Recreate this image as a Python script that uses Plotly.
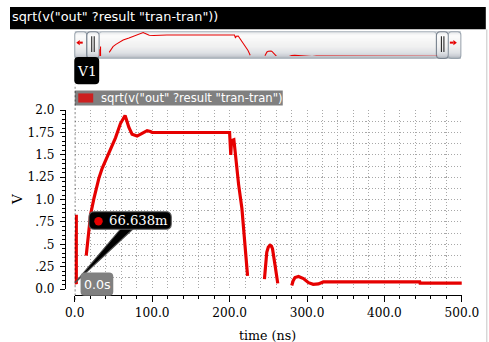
import plotly.graph_objects as go

# The photographed page carries an 8px body margin and is scaled by about 0.948,
# so layout positions are written in reference-picture pixels and mapped here.
K = 0.948
S = 1 / K
OFF = 8
W, H = 498, 343

# ---------------- data ----------------
t_ns = [0, 0, 2, 2, None,
        14.8, 17.4, 20.4, 24.7, 31.2, 35.4, 44, 52.6, 59, 63.4, 65, 66.5, 69.8, 74, 80.5, 87, 93.4, 97.7, 100,
        200, 201.5, 202.5, 205.5, 207, 209.4, 211.6, 215.9, 220, 223.2, None,
        245, 248, 250, 252.3, 254, 255.4, 258.8, 262.2, None,
        280.3, 282, 284.5, 289, 295.4, 301.9, 308, 314.7, 321, 445.6, 446, 500]
v_out = [0.62, 0.0666, 0.07, 0.83, None,
         0.374, 0.56, 0.83, 1.01, 1.24, 1.35, 1.51, 1.69, 1.85, 1.93, 1.94, 1.9, 1.81, 1.73, 1.71, 1.74, 1.77, 1.76, 1.75,
         1.75, 1.5, 1.66, 1.67, 1.55, 1.35, 1.17, 0.90, 0.52, 0.147, None,
         0.11, 0.41, 0.47, 0.49, 0.48, 0.45, 0.26, 0.063, None,
         0.04, 0.09, 0.128, 0.14, 0.117, 0.071, 0.052, 0.057, 0.079, 0.079, 0.065, 0.065]

y_tickvals = [0, 0.25, 0.5, 0.75, 1.0, 1.25, 1.5, 1.75, 2.0]
y_ticktext = ["0.0", ".25", ".5", ".75", "1.0", "1.25", "1.5", "1.75", "2.0"]
x_tickvals = [0, 100, 200, 300, 400, 500]
x_ticktext = ["0.0", "100.0", "200.0", "300.0", "400.0", "500.0"]

marker_t = 0.0
marker_v = 0.066638
marker_label = "66.638m"
marker_time_label = "0.0s"
signal_name = 'sqrt(v("out" ?result "tran-tran"))'
trace_tag = "V1"
x_title = "time (ns)"
y_title = "V"

# ---------------- helpers ----------------
def fx(x):
    return (x * S - OFF) / W

def fy(y):
    return 1 - (y * S - OFF) / H

def L(v):
    return v * S

def rr(x0, y0, x1, y1, rx, ry):
    xa, xb = min(x0, x1), max(x0, x1)
    ya, yb = min(y0, y1), max(y0, y1)
    return (f"M{xa+rx},{ya} L{xb-rx},{ya} Q{xb},{ya} {xb},{ya+ry} L{xb},{yb-ry} "
            f"Q{xb},{yb} {xb-rx},{yb} L{xa+rx},{yb} Q{xa},{yb} {xa},{yb-ry} "
            f"L{xa},{ya+ry} Q{xa},{ya} {xa+rx},{ya} Z")

def rr_px(x0, y0, x1, y1, r):
    return rr(fx(x0), fy(y0), fx(x1), fy(y1), L(r) / W, L(r) / H)

RED = "#e60000"
GRID = "#a8a8a8"
SERIF = "DejaVu Serif"
SANS = "DejaVu Sans"
DOT = f"{L(1):.2f}px,{L(2):.2f}px"

fig = go.Figure()
fig.add_trace(go.Scatter(x=t_ns, y=v_out, mode="lines", line=dict(color=RED, width=L(3)),
                         xaxis="x", yaxis="y", hoverinfo="skip", showlegend=False))
fig.add_trace(go.Scatter(x=[None], y=[None], mode="lines", xaxis="x", yaxis="y3",
                         hoverinfo="skip", showlegend=False))
fig.add_trace(go.Scatter(x=t_ns, y=v_out, mode="lines", line=dict(color=RED, width=L(1)),
                         xaxis="x2", yaxis="y2", hoverinfo="skip", showlegend=False))

shapes = []
# window chrome
shapes.append(dict(type="rect", xref="paper", yref="paper", x0=0, x1=fx(484.5), y0=fy(29.5), y1=1,
                   fillcolor="black", line=dict(width=0), layer="below"))
shapes.append(dict(type="line", xref="paper", yref="paper", x0=fx(485.5), x1=fx(485.5), y0=fy(341), y1=fy(29.5),
                   line=dict(color="#c8c8c8", width=L(1)), layer="below"))
shapes.append(dict(type="line", xref="paper", yref="paper", x0=0, x1=fx(485.5), y0=fy(340.5), y1=fy(340.5),
                   line=dict(color="#d4d4d4", width=L(1)), layer="below"))

# scrollbar gradient
stops = [(31.5, (168, 176, 186)), (33, (228, 230, 232)), (36, (250, 250, 250)), (46, (238, 238, 238)),
         (53, (212, 215, 220)), (56.5, (180, 186, 194)), (58.5, (130, 140, 152))]

def grad(yv):
    for (ya, ca), (yb, cb) in zip(stops[:-1], stops[1:]):
        if ya <= yv <= yb:
            f = (yv - ya) / (yb - ya)
            return tuple(round(a + (b - a) * f) for a, b in zip(ca, cb))
    return stops[-1][1]

yy = 31.5
while yy < 58.5:
    c = grad(yy + 0.5)
    shapes.append(dict(type="rect", xref="paper", yref="paper", x0=fx(72.5), x1=fx(459.5),
                       y0=fy(yy + 1), y1=fy(yy), fillcolor=f"rgb{c}", line=dict(width=0), layer="below"))
    yy += 1

for (a, b, col, r) in [(72.5, 84.5, "#9aa4ae", 3), (84.5, 97, "#7a8490", 4), (97, 435, "#b4bcc4", 3),
                       (435, 447, "#7a8490", 4), (447, 459.5, "#9aa4ae", 3)]:
    shapes.append(dict(type="path", xref="paper", yref="paper", path=rr_px(a, 32, b, 58.5, r),
                       line=dict(color=col, width=L(1)), layer="below"))
for gx in [89.5, 92, 440, 442.5]:
    shapes.append(dict(type="line", xref="paper", yref="paper", x0=fx(gx), x1=fx(gx), y0=fy(52), y1=fy(36.5),
                       line=dict(color="#202020", width=L(1)), layer="below"))
# arrows
shapes.append(dict(type="path", xref="paper", yref="paper",
                   path=f"M{fx(74)},{fy(42.8)} L{fx(77.5)},{fy(40.3)} L{fx(77.5)},{fy(45.3)} Z",
                   fillcolor=RED, line=dict(width=0)))
shapes.append(dict(type="rect", xref="paper", yref="paper", x0=fx(77.5), x1=fx(80.5), y0=fy(43.8), y1=fy(41.8),
                   fillcolor=RED, line=dict(width=0)))
shapes.append(dict(type="path", xref="paper", yref="paper",
                   path=f"M{fx(455.5)},{fy(42.8)} L{fx(452)},{fy(40.3)} L{fx(452)},{fy(45.3)} Z",
                   fillcolor=RED, line=dict(width=0)))
shapes.append(dict(type="rect", xref="paper", yref="paper", x0=fx(448.5), x1=fx(452), y0=fy(43.8), y1=fy(41.8),
                   fillcolor=RED, line=dict(width=0)))

# V1 tag
shapes.append(dict(type="path", xref="paper", yref="paper", path=rr_px(72, 57, 97, 84, 4),
                   fillcolor="black", line=dict(width=0)))
# legend box
shapes.append(dict(type="rect", xref="paper", yref="paper", x0=fx(72.5), x1=fx(281), y0=fy(105), y1=fy(90),
                   fillcolor="#808080", line=dict(width=0)))
shapes.append(dict(type="rect", xref="paper", yref="paper", x0=fx(76), x1=fx(91), y0=fy(102), y1=fy(93),
                   fillcolor="#cc2020", line=dict(width=0)))
# dashed tag line at trace start
shapes.append(dict(type="line", xref="x", yref="paper", x0=marker_t, x1=marker_t, y0=fy(297), y1=fy(84),
                   line=dict(color="black", width=L(1), dash=f"{L(2):.2f}px,{L(2):.2f}px")))

# callout anchored at the data point (pixel offsets, y up)
anc = dict(xref="x", yref="y", xsizemode="pixel", ysizemode="pixel", xanchor=marker_t, yanchor=marker_v)
shapes.append(dict(type="path", path=f"M0,0 L{L(44)},{L(52)} L{L(56)},{L(52)} Z", fillcolor="black",
                   line=dict(color="#505050", width=L(1)), **anc))
shapes.append(dict(type="path", path=rr(L(13.5), L(51), L(91.5), L(67.5), L(5), L(5)), fillcolor="black",
                   line=dict(color="#606060", width=L(1)), **anc))
shapes.append(dict(type="circle", x0=L(18.5), x1=L(26.5), y0=L(54.5), y1=L(62.5), fillcolor=RED,
                   line=dict(width=0), **anc))
# time label box
shapes.append(dict(type="path", xref="x", yref="paper", xsizemode="pixel", xanchor=marker_t,
                   path=rr(L(5.5), fy(293), L(36.5), fy(270), L(4), L(4) / H), fillcolor="#808080",
                   line=dict(width=0)))

annotations = [
    dict(text=signal_name, x=fx(8), y=fy(17), xref="paper", yref="paper", xanchor="left", yanchor="middle",
         showarrow=False, font=dict(family=SANS, size=L(12.2), color="white")),
    dict(text=trace_tag, x=fx(84.5), y=fy(70.5), xref="paper", yref="paper", xanchor="center", yanchor="middle",
         showarrow=False, font=dict(family=SERIF, size=L(13), color="white")),
    dict(text=signal_name, x=fx(97), y=fy(97.5), xref="paper", yref="paper", xanchor="left", yanchor="middle",
         showarrow=False, font=dict(family=SANS, size=L(11), color="white")),
    dict(text=y_title, x=fx(14), y=fy(197), xref="paper", yref="paper", xanchor="center", yanchor="middle",
         textangle=-90, showarrow=False, font=dict(family=SERIF, size=L(13), color="black")),
    dict(text=x_title, x=fx(266), y=fy(332), xref="paper", yref="paper", xanchor="center", yanchor="middle",
         showarrow=False, font=dict(family=SERIF, size=L(12), color="black")),
    dict(text=marker_label, x=marker_t, y=marker_v, xref="x", yref="y", xshift=L(31), yshift=L(59),
         xanchor="left", yanchor="middle", showarrow=False,
         font=dict(family=SERIF, size=L(12.5), color="white")),
    dict(text=marker_time_label, x=marker_t, y=fy(281.5), xref="x", yref="paper", xshift=L(21.5),
         xanchor="center", yanchor="middle", showarrow=False,
         font=dict(family=SANS, size=L(12), color="white")),
]

fig.update_layout(
    width=W, height=H, margin=dict(l=0, r=0, t=0, b=0),
    paper_bgcolor="white", plot_bgcolor="rgba(0,0,0,0)",
    showlegend=False, shapes=shapes, annotations=annotations,
    xaxis=dict(domain=[fx(72.5), fx(460.5)], range=[0, 500], anchor="free", position=fy(292.3),
               showline=True, linecolor="black", linewidth=L(1), ticks="outside", ticklen=L(6),
               tickcolor="black", tickwidth=L(1), tickmode="array", tickvals=x_tickvals, ticktext=x_ticktext,
               tickfont=dict(family=SERIF, size=L(11.5), color="black"),
               showgrid=True, gridcolor=GRID, gridwidth=L(1), griddash=DOT, zeroline=False,
               minor=dict(dtick=20, tick0=0, ticks="outside", ticklen=L(3), tickcolor="black", tickwidth=L(1),
                          showgrid=True, gridcolor=GRID, gridwidth=L(1), griddash=DOT),
               fixedrange=True),
    yaxis=dict(domain=[fy(286.3), fy(109.5)], range=[0, 2], anchor="free", position=fx(63),
               showline=True, linecolor="black", linewidth=L(1), ticks="outside", ticklen=L(5),
               tickcolor="black", tickwidth=L(1), tickmode="array", tickvals=y_tickvals, ticktext=y_ticktext,
               tickfont=dict(family=SERIF, size=L(11.5), color="black"), ticklabelstandoff=3,
               showgrid=False, zeroline=False,
               minor=dict(dtick=0.05, tick0=0, ticks="outside", ticklen=L(3), tickcolor="black",
                          tickwidth=L(1), showgrid=False),
               fixedrange=True),
    yaxis3=dict(overlaying="y", anchor="x", range=[0, 2], tickmode="linear", tick0=0, dtick=0.125,
                showgrid=True, gridcolor=GRID, gridwidth=L(1), griddash=DOT,
                showticklabels=False, ticks="", showline=False, zeroline=False, fixedrange=True),
    xaxis2=dict(domain=[fx(97), fx(436)], range=[0, 500], anchor="y2", visible=False, fixedrange=True),
    yaxis2=dict(domain=[fy(56), fy(32)], range=[0.09, 2.01], anchor="x2", visible=False, fixedrange=True),
)

fig.write_html("out.html", config=dict(displayModeBar=False))
